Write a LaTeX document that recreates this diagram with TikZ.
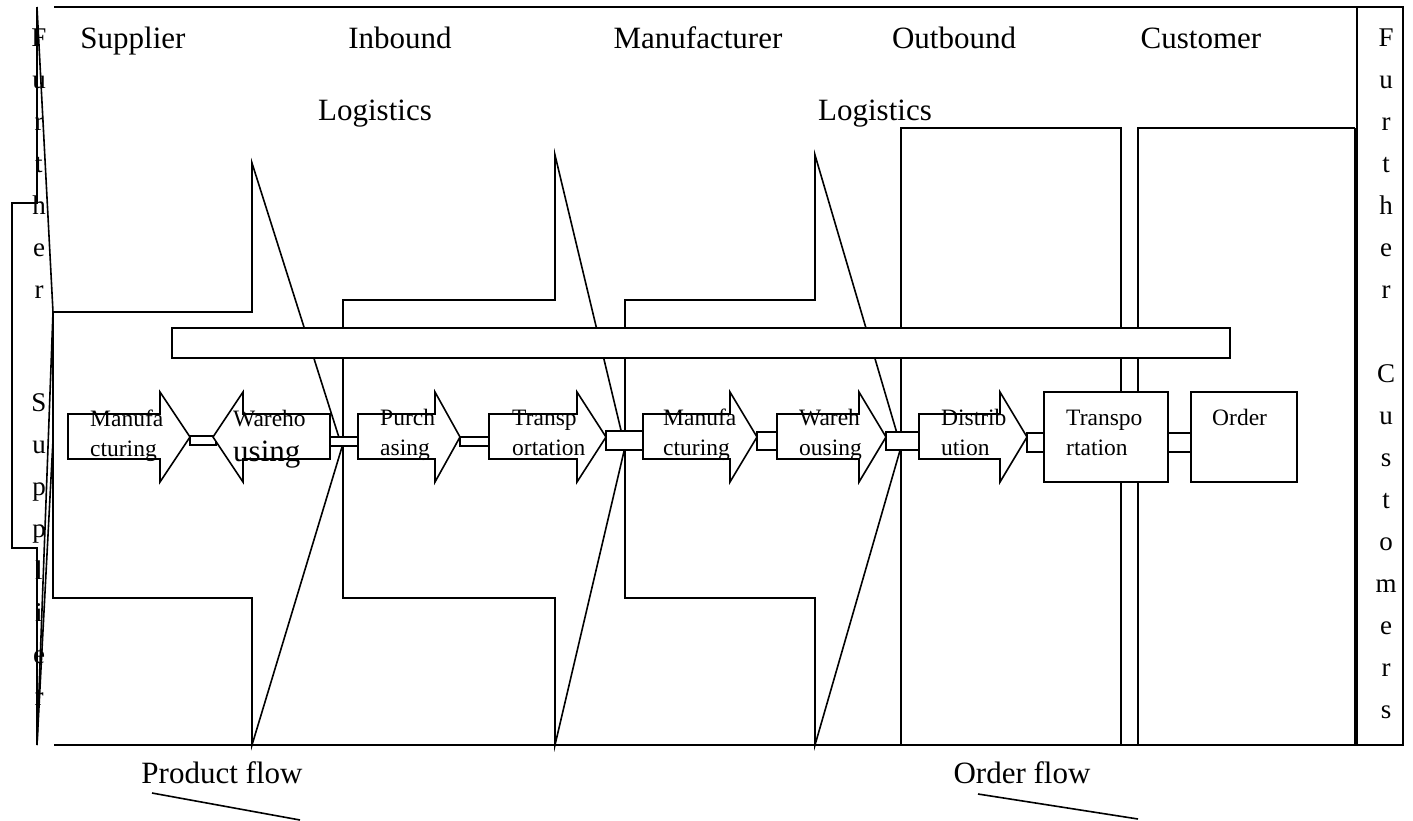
\documentclass[tikz,border=0pt]{standalone}
\usepackage{fontspec}
\setmainfont{Liberation Serif}
% right-pointing process arrow: body x0..x1, head at x1, tip at x2
\newcommand\procR[3]{%
  \draw[ln,fill=white] (#1,414) -- (#2,414) -- (#2,392) -- (#3,437) -- (#2,482)
    -- (#2,459) -- (#1,459) -- cycle;}
\begin{document}
\begin{tikzpicture}[x=1pt,y=-1pt,line join=miter,
  ln/.style={line width=1.6pt},
  bold/.style={line width=2.6pt},
  head/.style={font=\fontsize{31}{36}\selectfont,anchor=base,inner sep=0pt},
  proc/.style={font=\fontsize{23.5}{27}\selectfont,anchor=base west,inner sep=0pt},
  vlet/.style={font=\fontsize{27}{30}\selectfont,anchor=base,inner sep=0pt},
  link/.style={ln,fill=white}]
\useasboundingbox (0,0) rectangle (1413,820);

% stage chevrons
\draw[ln] (53,312) -- (252,312) -- (252,163) -- (342,447) -- (252,745)
  -- (252,598) -- (53,598) -- cycle;
\draw[ln] (343,300) -- (555,300) -- (555,155) -- (625,447) -- (555,745)
  -- (555,598) -- (343,598) -- cycle;
\draw[ln] (625,300) -- (815,300) -- (815,155) -- (901,447) -- (815,745)
  -- (815,598) -- (625,598) -- cycle;

% outbound and customer panels
\draw[ln] (901,128) rectangle (1121,745);
\draw[ln] (1138,745) -- (1138,128) -- (1355,128);
\draw[bold] (1355,128) -- (1355,745);
\draw[ln] (1357,7) rectangle (1403,745);

% frame lines
\draw[bold] (54,7) -- (1372,7);
\draw[bold] (54,745) -- (1372,745);

% further supplier strip
\draw[ln] (37,7) -- (37,203) -- (12,203) -- (12,548) -- (37,548) -- (37,745);
\draw[ln] (37,7) -- (53,312) -- (37,745);
\draw[ln] (53,440) -- (37,745);

% long bar
\draw[ln,fill=white] (172,328) rectangle (1230,358);

% links between process steps
\draw[link] (190,436) rectangle (216,445);
\draw[link] (330,437) rectangle (358,446);
\draw[link] (460,437) rectangle (489,446);
\draw[link] (606,431) rectangle (643,450);
\draw[link] (757,432) rectangle (777,450);
\draw[link] (886,432) rectangle (919,450);
\draw[link] (1027,433) rectangle (1044,452);
\draw[link] (1168,433) rectangle (1191,452);

% process steps
\procR{68}{160}{190}
\draw[ln,fill=white] (330,414) -- (243,414) -- (243,392) -- (213,437) -- (243,482)
  -- (243,459) -- (330,459) -- cycle;
\procR{358}{435}{460}
\procR{489}{577}{606}
\procR{643}{730}{757}
\procR{777}{859}{886}
\procR{919}{1000}{1027}
\draw[ln,fill=white] (1044,392) rectangle (1168,482);
\draw[ln,fill=white] (1191,392) rectangle (1297,482);

% process labels
\node[proc] (m1a) at (90,426) {Manufa};
\node[proc] (m1b) at (90,456) {cturing};
\node[proc] (w1a) at (233,426) {Wareho};
\node[proc,font=\fontsize{31}{36}\selectfont] (w1b) at (233,461) {using};
\node[proc] (pua) at (380,425) {Purch};
\node[proc] (pub) at (380,455) {asing};
\node[proc] (t1a) at (512,425) {Transp};
\node[proc] (t1b) at (512,455) {ortation};
\node[proc] (m2a) at (663,425) {Manufa};
\node[proc] (m2b) at (663,455) {cturing};
\node[proc] (w2a) at (799,425) {Wareh};
\node[proc] (w2b) at (799,455) {ousing};
\node[proc] (dia) at (941,425) {Distrib};
\node[proc] (dib) at (941,455) {ution};
\node[proc] (t2a) at (1066,425) {Transpo};
\node[proc] (t2b) at (1066,455) {rtation};
\node[proc] (ord) at (1212,425) {Order};

% stage headings
\node[head] (hsup) at (133,48) {Supplier};
\node[head] (hin) at (400,48) {Inbound};
\node[head] (hinl) at (375,120) {Logistics};
\node[head] (hman) at (698,48) {Manufacturer};
\node[head] (hout) at (954,48) {Outbound};
\node[head] (houtl) at (875,120) {Logistics};
\node[head] (hcus) at (1201,48) {Customer};

% flow captions
\node[head] (pflow) at (222,783) {Product flow};
\node[head] (oflow) at (1022,783) {Order flow};
\draw[ln] (152,793) -- (300,820);
\draw[ln] (978,794) -- (1138,819);

% vertical side captions
\foreach \ch [count=\i from 0] in {F,u,r,t,h,e,r}
  \node[vlet] at (39,46+42*\i) {\ch};
\foreach \ch [count=\i from 0] in {S,u,p,p,l,i,e,r}
  \node[vlet] at (39,411+42*\i) {\ch};
\foreach \ch [count=\i from 0] in {F,u,r,t,h,e,r,{},C,u,s,t,o,m,e,r,s}
  \node[vlet] at (1386,46+42*\i) {\ch};
\end{tikzpicture}
\end{document}
